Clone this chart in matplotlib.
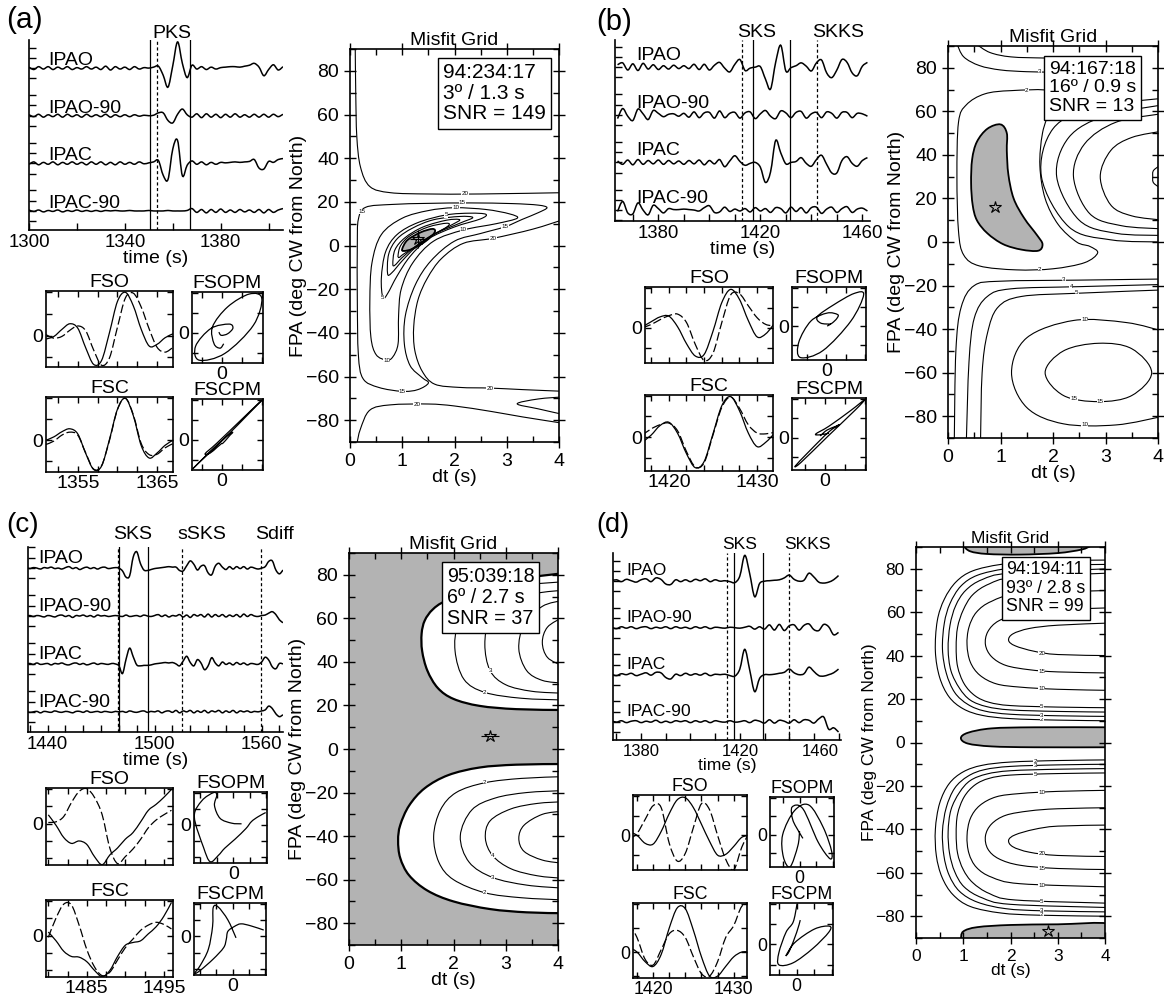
import numpy as np
import matplotlib
matplotlib.use("Agg")
import matplotlib.pyplot as plt
import matplotlib.transforms as mtransforms
from matplotlib.path import Path
from matplotlib.patches import PathPatch
from matplotlib.ticker import MultipleLocator

plt.rcParams["font.family"] = ["Liberation Sans", "DejaVu Sans"]
plt.rcParams["axes.linewidth"] = 1.2

W, H = 1164, 999
GRAY = "#b3b3b3"
STATIONS = ["IPAO", "IPAO-90", "IPAC", "IPAC-90"]
OFFSETS = [30, 20, 10, 0]
SIDE_TICKS = [4.3, 2.15, 0.0, -2.15]

# ---------------- panel (a) data ----------------
A_T0, A_STEP = 1300, 2
A_IPAO = [0.2, -0.3, 0.3, -0.2, 0.3, -0.3, 0.2, -0.2, 0.3, -0.3, 0.1, -0.2, 0.3, -0.2, 0.2, -0.3, 0.4, -0.4,
          0.3, -0.2, 0.2, -0.3, 0.3, -0.2, 0.1, 0.0,
          0.2, 0.4, -1.5, -4.0, 0.5, 5.5, 1.0, -2.0, 0.6, -0.2, 0.3, -0.3, 0.2, -0.2, 0.1, 0.2, 0.3, 0.3,
          0.2, 0.4, 0.6, 1.0, 0.2, -1.6, -0.3, 0.7, -0.4, 0.3]
A_IPAO90 = [0.2, -0.2, 0.3, -0.3, 0.2, -0.2, 0.3, -0.3, 0.3, -0.2, 0.2, -0.3, 0.3, -0.2, 0.2, -0.2, 0.3, -0.3,
            0.2, -0.2, 0.2, -0.2, 0.2, -0.1, 0.1, 0.0,
            0.1, 0.6, 0.6, -1.0, -1.5, 0.3, 1.4, 0.2, -0.3, 0.4, -0.4, 0.4, -0.3, 0.3, -0.4, 0.3, -0.3, 0.4,
            -0.3, 0.2, -0.3, 0.3, -0.3, 0.3, -0.3, 0.3, -0.2, 0.3]
A_IPAC = [-0.2, 0.3, -0.3, 0.2, -0.2, 0.3, -0.3, 0.2, -0.2, 0.3, -0.2, 0.2, -0.3, 0.3, -0.2, 0.3, -0.3, 0.2,
          -0.3, 0.3, -0.2, 0.2, -0.2, 0.3, -0.1, 0.1,
          0.3, 0.6, -2.5, -3.4, 3.0, 4.8, -2.6, -0.4, 0.5, -0.2, 0.3, -0.3, 0.2, -0.2, 0.2, 0.1, 0.2, 0.3,
          0.2, 0.3, 0.4, 0.8, -1.0, -1.2, 0.4, 0.2, 0.8, 1.0]
A_IPAC90 = [0.2, -0.1, 0.2, -0.2, 0.1, -0.1, 0.2, -0.2, 0.1, -0.1, 0.2, -0.1, 0.1, -0.1, 0.1, -0.1, 0.1, 0.0,
            0.1, 0.0, 0.0, 0.1, 0.0, 0.0, 0.0, 0.1, 0.0, 0.0, 0.0, 0.1, 0.0, 0.0, 0.0, 0.1,
            0.5, -0.3, 0.3, -0.4, 0.3, -0.3, 0.4, -0.3, 0.2, -0.3, 0.3, -0.2, 0.2, -0.3, 0.3, -0.4, 0.3, -0.3,
            0.2, 0.5]
A_WINDOW = [1350.6, 1367.0]
A_PHASES = [("PKS", 1353.6)]
A_FS_T0 = 1351
A_FSO_1 = [-0.08, -0.02, 0.14, 0.27, 0.17, -0.28, -0.66, -0.57, 0.07, 0.78, 0.99, 0.68, 0.14, -0.24, -0.2, -0.05, 0.04]
A_FSO_2 = [0.02, -0.06, -0.02, 0.12, 0.22, 0.11, -0.33, -0.68, -0.51, 0.19, 0.86, 0.97, 0.65, 0.15, -0.27, -0.38, -0.27]
A_FSC_1 = [0.0, 0.08, 0.2, 0.27, 0.15, -0.31, -0.69, -0.61, 0.02, 0.73, 0.99, 0.58, -0.13, -0.42, -0.3, -0.12, 0.0]
A_FSC_2 = [-0.1, -0.02, 0.12, 0.19, 0.12, -0.3, -0.68, -0.6, 0.0, 0.72, 0.99, 0.6, -0.08, -0.34, -0.33, -0.18, -0.08]
A_INFO = ["94:234:17", "3º / 1.3 s", "SNR = 149"]
A_BEST = (1.3, 3)
A_FILL = [(1.0, -1.5), (1.1, 2.5), (1.35, 6), (1.58, 7.6), (1.62, 6), (1.45, 2), (1.2, -1.5), (1.03, -2.5)]
A_C2 = [(0.92, -4.5), (0.97, 0), (1.15, 4.5), (1.5, 8.5), (1.85, 10.2), (1.87, 8.8), (1.55, 4.2), (1.25, -0.5),
        (1.02, -4), (0.94, -5.5)]
A_C3 = [(0.82, -8.5), (0.86, -2), (1.05, 3.5), (1.4, 8.5), (1.85, 11.6), (2.1, 11.8), (1.95, 9.5), (1.55, 4.5),
        (1.25, -0.5), (1.0, -5.5), (0.86, -9)]
A_C4 = [(0.72, -13), (0.74, -4), (0.9, 3), (1.2, 8), (1.6, 11.8), (2.1, 13.3), (2.35, 12.8), (2.1, 10.2),
        (1.6, 5), (1.25, -1), (1.0, -7), (0.8, -12.5)]
A_C5 = [(0.63, -24), (0.6, -15), (0.68, -3), (0.9, 5), (1.3, 10.5), (1.84, 14), (2.3, 14.8), (2.6, 14.3),
        (2.5, 12.2), (2.0, 8.5), (1.5, 3), (1.15, -5), (0.9, -14), (0.72, -22)]
A_C10 = [(2.0, 17.3), (2.6, 16.5), (3.05, 14.5), (3.2, 12.5), (2.8, 10), (2.17, 7.1), (1.6, 2), (1.2, -8),
         (0.98, -20), (0.93, -32), (0.92, -45), (0.82, -51), (0.7, -52.5), (0.5, -50), (0.4, -42), (0.38, -25),
         (0.42, -8), (0.6, 5), (1.0, 12.5), (1.5, 16)]
A_C15 = [(0.16, 12), (0.3, 17.5), (0.8, 18.8), (1.5, 19.3), (2.3, 19.5), (3.1, 19.2), (3.6, 18.5), (3.77, 17.3),
         (3.6, 15), (3.3, 12), (2.97, 8.6), (2.5, 5.5), (2.0, 2), (1.55, -7), (1.25, -18), (1.06, -32),
         (1.04, -45), (1.15, -55), (1.38, -60.5), (1.5, -63), (1.3, -66), (1.0, -66.8), (0.55, -65),
         (0.25, -61), (0.16, -50), (0.14, -25), (0.14, 0)]
A_C20U = [(0.10, 91), (0.11, 70), (0.13, 50), (0.2, 36), (0.38, 27), (0.77, 24.2), (1.5, 23.6), (2.5, 23.6),
          (4.1, 24.2)]
A_C20R = [(4.1, 12), (3.5, 7.5), (2.74, 3.3), (2.17, 1.0), (1.75, -6), (1.48, -15), (1.3, -25), (1.22, -37),
          (1.24, -48), (1.38, -57.5), (1.62, -63.5), (2.1, -65), (2.68, -65.3), (3.3, -66), (4.1, -66.8)]
A_C20L = [(0.13, -91), (0.2, -84), (0.38, -75.4), (0.77, -73), (1.5, -72.6), (2.0, -73.5), (2.7, -76),
          (3.3, -78.5), (4.1, -81.5)]
A_C20T = [(4.1, -69.3), (3.6, -70.3), (3.2, -72.5), (3.6, -74.8), (4.1, -77.5)]
A_LABELS = [("20", 2.2, 23.6), ("15", 2.15, 19.5), ("10", 2.03, 17.2), ("15", 0.22, 15.6), ("5", 1.84, 14),
            ("10", 2.17, 7.1), ("15", 2.97, 8.6), ("20", 2.74, 3.3), ("20", 2.68, -65.3), ("10", 0.7, -52.5),
            ("15", 1.0, -66.8), ("5", 0.63, -24), ("20", 1.28, -72.6)]

# ---------------- panel (b) data ----------------
B_T0, B_STEP = 1364, 2
B_IPAO = [0.5, 0.9, -0.6, 0.7, -0.7, 0.8, -0.4, 0.5, -0.5, 0.3, -0.4, 0.4, -0.3, 0.3, -0.3, 0.6, -0.5, 0.6,
          -0.6, 0.4, 1.0, -0.2, -1.0, 0.6, 1.6, -0.7, -0.2, 0.0, 0.1, -2.5, -4.6, 1.0, 4.6, -0.8, -0.1, 0.3,
          0.9, 0.2, -0.8, 0.9, 1.5, -1.2, -2.2, -0.6, 1.6, 1.0, -1.2, -1.8, 0.2, 1.0]
B_IPAO90 = [-0.8, 1.3, -0.3, -1.2, 1.2, 0.2, -1.0, 0.9, 0.3, -0.4, 0.1, 0.2, -0.3, 0.3, -0.5, 0.6, -0.6, 0.4,
            0.5, -0.7, 0.8, -0.6, 0.3, 0.5, -0.7, 0.4, 0.6, -0.8, 0.2, 0.9, -0.3, -0.8, 0.8, 0.4, -0.6, 0.5,
            0.7, -0.7, 0.2, 0.5, -0.6, 0.6, 0.3, -0.7, 0.5, 0.5, -0.6, 0.3, 0.2, -0.3]
B_IPAC = [0.3, -0.4, 0.5, -0.5, 0.6, -0.4, 0.4, -0.3, 0.5, -0.4, 0.4, -0.3, 0.3, -0.4, 0.4, -0.3, 0.5, -0.5,
          0.4, -0.3, 0.6, -0.9, 0.3, 1.4, 0.2, -0.6, -0.2, 0.0, -1.0, -4.2, -2.0, 4.6, 2.0, -0.3, 0.0, 0.2,
          1.0, -0.2, -0.8, 0.6, 1.5, -0.4, -2.2, -2.2, 0.4, 1.2, -0.2, -0.8, 0.4, 1.0]
B_IPAC90 = [-0.3, 1.8, -0.6, -0.8, 1.5, 0.0, -1.0, 1.0, 0.3, -0.6, 0.3, 0.1, 0.1, 0.2, 0.1, 0.0, -0.2, 0.5,
            0.9, -0.5, -0.4, 0.6, -0.3, 0.2, -0.2, 0.3, -0.4, 0.5, -0.2, 0.3, -0.5, 0.5, 0.3, -0.6, 0.6, -0.3,
            0.5, -0.6, 0.5, 0.6, -0.7, 0.2, 0.6, -0.5, 0.3, 0.7, -0.5, 0.2, 0.4, -0.2]
B_WINDOW = [1417.0, 1431.6]
B_PHASES = [("SKS", 1412.9), ("SKKS", 1442.1)]
B_FS_T0 = 1417
B_FSO_1 = [0.02, 0.15, 0.27, 0.29, 0.02, -0.40, -0.71, -0.67, -0.09, 0.63, 0.96, 0.71, 0.18, -0.23, -0.15, 0.12]
B_FSO_2 = [0.0, 0.08, 0.2, 0.3, 0.34, 0.13, -0.42, -0.82, -0.64, 0.13, 0.82, 0.85, 0.55, 0.25, 0.08, 0.05]
B_FSC_1 = [-0.12, 0.05, 0.28, 0.36, 0.09, -0.40, -0.74, -0.59, 0.08, 0.76, 0.98, 0.64, 0.10, -0.23, -0.12, 0.10]
B_FSC_2 = [0.05, 0.2, 0.3, 0.34, 0.15, -0.35, -0.72, -0.62, 0.05, 0.72, 0.97, 0.7, 0.3, 0.1, 0.08, 0.12]
B_INFO = ["94:167:18", "16º / 0.9 s", "SNR = 13"]
B_BEST = (0.9, 16)
B_FILL = [(1.0, 54), (0.75, 52), (0.55, 46), (0.46, 38), (0.44, 27), (0.47, 17), (0.55, 10), (0.75, 4),
          (1.05, -1), (1.4, -3.5), (1.72, -4), (1.8, -1), (1.7, 3), (1.45, 11), (1.25, 20), (1.15, 31),
          (1.12, 42), (1.12, 50)]
B_C2 = [(1.95, 69.3), (1.2, 69.5), (0.7, 68), (0.35, 63), (0.2, 55), (0.17, 30), (0.2, 5), (0.3, -6),
        (0.6, -11), (1.3, -12.8), (2.0, -12.3), (2.6, -9.5), (2.85, -5), (2.7, -2), (2.45, 0), (2.1, 8),
        (1.85, 20), (1.75, 35), (1.8, 50), (1.95, 62)]
B_R1 = [(4.1, 24), (3.92, 27), (3.9, 30), (3.92, 33), (4.1, 36)]
B_R2 = [(4.1, 10), (3.5, 12), (3.1, 17), (2.9, 30), (3.1, 42), (3.5, 48), (4.1, 51)]
B_R3 = [(4.1, 6), (3.3, 7.5), (2.7, 13), (2.39, 30), (2.6, 45), (3.2, 55), (4.1, 59)]
B_R4 = [(4.1, 3), (3.2, 4), (2.5, 10), (2.07, 30), (2.3, 48), (3.0, 58), (4.1, 63)]
B_R5 = [(4.1, 0), (3.1, 1), (2.3, 7), (1.78, 30), (2.0, 52), (2.8, 62), (4.1, 66)]
B_E15 = [(1.85, -60), (2.2, -50), (2.87, -46.5), (3.5, -49), (3.88, -60), (3.5, -70.5), (2.87, -73.3), (2.2, -70.5)]
B_E10 = [(4.1, -80), (3.2, -84), (2.2, -83.5), (1.5, -76), (1.21, -60), (1.5, -44), (2.4, -36), (3.4, -37),
         (4.1, -41)]
B_U3 = [(4.1, -17), (2.5, -17.5), (1.0, -18), (0.5, -20), (0.25, -30), (0.15, -50), (0.12, -91)]
B_U4 = [(4.1, -19.5), (2.5, -20.5), (1.2, -21.5), (0.75, -25), (0.5, -35), (0.4, -55), (0.35, -91)]
B_U5 = [(4.1, -22), (2.5, -23.5), (1.4, -25), (0.95, -30), (0.75, -42), (0.65, -60), (0.62, -91)]
B_T3 = [(0.17, 91), (0.3, 85), (0.6, 81), (1.0, 79), (1.5, 78.2), (2.0, 78)]
B_T4 = [(0.53, 91), (0.8, 87), (1.2, 85), (1.8, 84.5), (2.0, 84.5)]
B_LABELS = [("2", 1.5, 69.4), ("3", 1.75, 78.1), ("2", 1.75, -12.5), ("3", 2.2, -17.4), ("4", 2.35, -20.4),
            ("5", 2.45, -23.4), ("10", 2.6, -35.8), ("15", 2.4, -72), ("15", 2.9, -73.3), ("10", 2.6, -84)]

# ---------------- panel (c) data ----------------
C_T0, C_STEP = 1428, 2
C_IPAO = [0.1, -0.1, 0.1, 0.0, -0.2, 0.1, 0.0, 0.2, -0.1, 0.0, -0.2, 0.1, 0.3, -0.1, 0.1, -0.3, 0.0, 0.2,
          -0.1, 0.1, -0.2, 0.1, 0.2, -0.1, 0.0, 0.1, 0.0, -0.6, -1.9, -1.6, 2.3, 3.4, 1.0, -0.4, -0.5, -0.3,
          -0.1, 0.0, 0.1, 0.2, 0.3, 0.2, 0.2, -0.5, -0.6, 0.5, 1.5, 0.8, -0.4, 0.4, 0.5, -1.0, -1.4, 0.4,
          1.0, 0.2, -0.3, 0.3, -0.2, 0.3, -0.1, 0.3, -0.2, 0.2, 0.0, -0.2, 0.0, 0.3, 1.4, 1.5, -0.4, -1.2, -0.4]
C_IPAO90 = [0.0, 0.1, -0.1, 0.1, 0.0, -0.2, 0.1, 0.0, -0.2, 0.1, 0.2, -0.1, 0.1, -0.3, 0.1, 0.0, 0.2, -0.1,
            0.1, -0.2, 0.2, 0.0, 0.1, -0.1, 0.0, 0.1, 0.0, -0.1, 0.2, -0.1, 0.0, 0.1, -0.1, 0.2, 0.0, -0.1,
            0.1, 0.3, -0.1, 0.2, -0.2, 0.1, 0.0, 0.3, -0.2, 0.2, -0.3, 0.3, 0.0, 0.3, -0.2, 0.4, -0.2, 0.3,
            -0.1, 0.3, -0.2, 0.2, -0.1, 0.3, -0.2, 0.4, -0.1, 0.3, 0.0, -0.1, 0.1, 0.2, 0.6, 0.9, 0.3, -0.8, -1.4]
C_IPAC = [0.0, 0.1, -0.1, 0.2, -0.1, 0.0, 0.1, -0.2, 0.1, 0.0, 0.2, -0.1, -0.2, 0.1, 0.2, -0.1, 0.1, -0.2,
          0.0, 0.2, -0.1, 0.1, 0.0, -0.1, 0.1, 0.0, -0.4, -2.0, 1.0, 3.3, 1.5, -0.2, -0.4, -0.3, -0.3, -0.2,
          0.0, 0.1, 0.2, 0.3, 0.2, 0.3, 0.0, -0.4, 0.6, 1.6, 0.3, -0.4, 0.9, 0.2, -1.2, -0.4, 1.3, 0.2, -0.4,
          0.4, -0.1, 0.2, -0.2, 0.3, -0.1, 0.2, -0.2, 0.1, 0.0, -0.1, 0.4, 1.4, 0.8, -0.6, -1.0, 0.1, 0.0]
C_IPAC90 = [0.1, -0.1, 0.0, 0.1, -0.2, 0.1, 0.0, -0.1, 0.2, 0.0, -0.1, 0.1, 0.0, -0.2, 0.1, 0.1, -0.1, 0.2,
            -0.1, 0.0, 0.1, -0.1, 0.1, 0.0, -0.1, 0.1, 0.0, 0.1, -0.1, 0.2, 0.0, -0.1, 0.1, 0.2, -0.1, 0.1,
            0.0, 0.2, -0.2, 0.1, 0.2, -0.1, 0.3, -0.2, 0.2, 0.0, 0.3, -0.2, 0.2, -0.1, 0.3, -0.2, 0.2, 0.0,
            0.3, -0.2, 0.2, -0.1, 0.3, -0.2, 0.2, 0.0, 0.2, -0.1, 0.1, 0.0, 0.2, 0.4, 1.2, 0.7, -0.4, -1.0, -0.6]
C_WINDOW = [1480.0, 1496.3]
C_PHASES = [("SKS", 1479.4), ("sSKS", 1515.5), ("Sdiff", 1559.4)]
C_FS_T0 = 1480
C_FSO_1 = [0.25, -0.05, -0.4, -0.57, -0.5, -0.6, -0.95, -1.18, -0.9, -0.7, -0.45, -0.26, 0.05, 0.38, 0.55, 0.75, 0.98]
C_FSO_2 = [0.03, 0.05, 0.2, 0.6, 0.92, 1.0, 0.75, 0.25, -0.71, -1.15, -0.95, -0.73, -0.45, -0.12, 0.1, 0.25, 0.38]
C_FSC_1 = [0.1, -0.15, -0.45, -0.6, -0.62, -0.75, -1.0, -1.18, -1.0, -0.6, -0.28, -0.2, -0.15, 0.05, 0.25, 0.55, 0.95]
C_FSC_2 = [-0.05, 0.5, 0.9, 0.88, 0.3, -0.4, -0.9, -1.15, -1.05, -0.7, -0.35, -0.1, 0.15, 0.3, 0.38, 0.32, 0.19]
C_INFO = ["95:039:18", "6º / 2.7 s", "SNR = 37"]
C_BEST = (2.7, 6)
C_WHITE_UP = [(4.1, 17.9), (3.2, 18.3), (2.5, 19.8), (2.0, 23), (1.7, 28), (1.5, 36), (1.4, 45), (1.39, 53),
              (1.45, 59), (1.6, 64), (1.85, 68), (2.5, 74), (3.2, 78), (4.1, 80.7)]
C_WHITE_LO = [(4.1, -6.9), (3.2, -7.2), (2.5, -8.5), (1.9, -12), (1.45, -18), (1.15, -26), (0.98, -35),
              (0.94, -42), (0.98, -50), (1.15, -58), (1.5, -65), (2.0, -70), (2.7, -73.5), (3.4, -75), (4.1, -75.4)]
C_L2 = [(4.1, -12.7), (3.3, -13.5), (2.6, -15.5), (2.05, -20), (1.75, -28), (1.62, -40), (1.72, -52), (2.0, -60),
        (2.6, -66), (3.3, -68.3), (4.1, -69.3)]
C_L3 = [(4.1, -19.1), (3.4, -20), (2.8, -22.5), (2.35, -28), (2.13, -40), (2.3, -52), (2.75, -59), (3.4, -62.5),
        (4.1, -63.9)]
C_L4 = [(4.1, -24.2), (3.6, -25), (3.1, -27.5), (2.7, -33), (2.61, -41), (2.75, -49), (3.1, -55), (3.6, -58.2),
        (4.1, -59.4)]
C_L5 = [(4.1, -28.5), (3.7, -30), (3.35, -35), (3.25, -41), (3.35, -47), (3.7, -51), (4.1, -52.5)]
C_U2 = [(4.1, 22.5), (3.3, 23.3), (2.6, 26), (2.2, 32), (2.03, 45), (2.1, 57), (2.5, 67), (3.2, 74.5), (4.1, 76.8)]
C_U3 = [(4.1, 25.6), (3.5, 26.5), (3.0, 29.5), (2.7, 36), (2.6, 48), (2.7, 59), (3.1, 67.5), (3.6, 71.5), (4.1, 72.9)]
C_U4 = [(4.1, 30.2), (3.7, 31.5), (3.4, 36), (3.25, 46), (3.35, 57), (3.7, 65.5), (4.1, 68.3)]
C_U5 = [(4.1, 38), (3.8, 42), (3.7, 49), (3.8, 56), (4.1, 60.6)]
C_LABELS = [("2", 2.6, -15.5), ("4", 2.75, -49), ("3", 2.75, -59), ("2", 2.6, -66), ("3", 2.7, 36),
            ("2", 2.6, 26)]

# ---------------- panel (d) data ----------------
D_T0, D_STEP = 1368, 2
D_IPAO = [0.0, 0.2, -0.2, 0.3, 0.0, -0.3, 0.2, 0.4, -0.2, 0.6, 0.3, -0.7, -0.8, 0.2, -0.2, 0.2, -0.2, 0.3,
          0.0, 0.4, -0.2, 0.2, -0.1, 0.0, -0.2, -0.4, 1.0, 5.4, 1.5, -3.4, -0.6, -0.1, 0.0, 0.1, 0.2, 0.6,
          1.2, 0.3, -0.1, 0.1, 1.6, 0.8, -0.3, -0.5, -0.3, 0.2, 1.1]
D_IPAO90 = [0.1, -0.2, 0.2, -0.1, 0.2, -0.2, 0.1, 0.2, -0.2, 0.1, -0.1, 0.2, -0.2, 0.2, -0.1, 0.1, -0.2, 0.2,
            -0.1, 0.2, -0.2, 0.1, 0.0, -0.1, 0.1, 0.0, -0.1, 0.1, 0.3, -0.3, 0.2, -0.3, 0.6, -0.5, 0.7, -0.6,
            0.4, 0.6, -0.5, 0.5, 0.8, -0.4, -0.6, 0.7, 0.2, -1.5, -1.0]
D_IPAC = [0.1, -0.2, 0.2, 0.0, 0.3, -0.2, 0.1, 0.4, -0.1, 0.5, 0.4, -0.6, -0.9, 0.1, -0.2, 0.3, -0.1, 0.2,
          -0.1, 0.3, -0.2, 0.1, 0.0, 0.1, -0.2, -0.3, 1.2, 5.4, 1.0, -3.6, -0.8, 0.0, 0.0, 0.1, 0.3, 0.5,
          1.2, 0.4, 0.0, 0.2, 1.6, 0.7, -0.2, -0.3, 0.0, 0.4, 1.2]
D_IPAC90 = [0.2, -0.1, 0.2, -0.2, 0.1, 0.2, -0.2, 0.1, -0.1, 0.3, -0.2, 0.1, -0.2, 0.2, 0.0, 0.2, -0.2, 0.2,
            -0.1, 0.2, -0.2, 0.2, 0.0, -0.1, 0.2, -0.1, 0.0, 0.2, -0.2, 0.3, 0.1, -0.3, 0.4, -0.3, 0.3, 0.1,
            -0.3, 0.4, -0.2, 0.4, 0.3, -0.3, 0.6, 1.0, -1.6, -1.3, -2.2]
D_WINDOW = [1417.7, 1429.3]
D_PHASES = [("SKS", 1415.0), ("SKKS", 1440.1)]
D_FS_T0 = 1417
D_FSO_1 = [0.1, 0.0, -0.2, -0.22, 0.1, 0.55, 0.9, 0.95, 0.7, 0.28, -0.15, -0.5, -0.48, -0.28, -0.05, 0.0]
D_FSO_2 = [-0.1, 0.05, 0.4, 0.75, 0.7, -0.2, -0.65, -0.45, 0.2, 0.8, 0.65, 0.0, -0.6, -0.87, -0.3, 0.1]
D_FSC_1 = [0.1, 0.0, -0.2, -0.3, -0.05, 0.5, 0.92, 0.9, 0.45, -0.1, -0.5, -0.5, -0.3, -0.1, 0.0, 0.0]
D_FSC_2 = [0.6, 0.3, -0.15, -0.27, 0.05, 0.38, 0.45, 0.3, -0.1, -0.45, -0.5, -0.2, 0.3, 0.55, 0.95, 1.0]
D_INFO = ["94:194:11", "93º / 2.8 s", "SNR = 99"]
D_BEST = (2.8, -87)
D_FILL_MID = [(4.1, 7), (2.5, 7), (1.6, 6.5), (1.1, 4.5), (0.95, 2), (1.1, -0.5), (1.6, -1.8), (2.5, -2.2), (4.1, -2.2)]
D_FILL_TOP = [(1.0, 90.5), (1.15, 88), (1.5, 86.8), (2.2, 86.5), (3.0, 87.2), (3.5, 88.8), (3.7, 90.5)]
D_FILL_BOT = [(0.95, -90.5), (1.0, -87), (1.3, -85), (2.0, -84), (3.0, -83.7), (4.1, -83.5), (4.1, -90.5)]
D_UP2 = [(4.1, 10), (3, 10.3), (2, 11), (1.4, 12.5), (1.0, 15.5), (0.7, 21), (0.5, 30), (0.41, 42), (0.45, 56),
         (0.6, 66), (0.85, 74), (1.2, 79), (1.8, 82), (2.6, 83.5), (4.1, 84)]
D_UP3 = [(4.1, 12), (3, 12.3), (2, 13), (1.45, 14.5), (1.1, 17.5), (0.82, 23), (0.64, 32), (0.56, 43), (0.6, 55),
         (0.72, 64), (0.95, 72), (1.3, 77), (1.9, 80), (2.7, 81.5), (4.1, 82)]
D_UP4 = [(4.1, 14), (3, 14.3), (2, 15), (1.5, 16.5), (1.15, 19.5), (0.92, 25), (0.74, 33), (0.68, 43), (0.72, 54),
         (0.84, 63), (1.05, 70), (1.4, 75), (2, 78), (4.1, 80)]
D_UP5 = [(4.1, 16), (3, 16.3), (2, 17), (1.55, 18.5), (1.25, 21.5), (1.02, 27), (0.88, 35), (0.85, 44), (0.88, 53),
         (1.0, 61), (1.2, 68), (1.55, 73), (2.1, 76), (4.1, 78)]
D_UP10 = [(4.1, 24), (3, 24.5), (2.2, 25.5), (1.7, 27), (1.35, 31), (1.15, 37), (1.08, 45), (1.12, 53), (1.28, 60),
          (1.6, 65), (2.2, 68.5), (4.1, 70)]
D_UP15 = [(4.1, 32), (3, 32.5), (2.4, 33.5), (1.9, 35.5), (1.6, 39.5), (1.47, 45), (1.52, 51), (1.75, 56), (2.2, 59),
          (3, 61), (4.1, 62)]
D_UP20 = [(4.1, 40), (3, 40.5), (2.5, 42), (2.1, 44.5), (1.96, 47), (2.05, 50), (2.4, 52.5), (3, 54), (4.1, 55)]
D_LO2 = [(4.1, -8), (3, -8.3), (2, -9), (1.4, -10.5), (1.0, -13.5), (0.7, -19), (0.5, -28), (0.41, -40), (0.43, -52),
         (0.55, -62), (0.78, -70), (1.15, -75.5), (1.8, -78.5), (2.6, -79.5), (4.1, -80)]
D_LO3 = [(4.1, -10), (3, -10.3), (2, -11), (1.45, -12.5), (1.1, -15.5), (0.82, -21), (0.64, -30), (0.56, -41),
         (0.59, -52), (0.7, -61), (0.92, -68.5), (1.3, -73.5), (1.9, -76.5), (2.7, -77.5), (4.1, -78)]
D_LO4 = [(4.1, -12), (3, -12.3), (2, -13), (1.5, -14.5), (1.15, -17.5), (0.92, -23), (0.74, -31), (0.68, -41),
         (0.71, -51), (0.82, -59.5), (1.02, -66.5), (1.4, -71.5), (2, -74.5), (4.1, -76)]
D_LO5 = [(4.1, -14), (3, -14.3), (2, -15), (1.55, -16.5), (1.25, -19.5), (1.02, -25), (0.88, -33), (0.85, -42),
         (0.88, -51), (1.0, -58.5), (1.2, -64.5), (1.55, -69.5), (2.1, -72.5), (4.1, -74)]
D_LO10 = [(4.1, -22), (3, -22.5), (2.2, -23.5), (1.7, -25), (1.35, -29), (1.15, -35), (1.08, -43), (1.12, -51),
          (1.28, -57.5), (1.6, -62), (2.2, -65), (4.1, -66.5)]
D_LO15 = [(4.1, -30), (3, -30.5), (2.4, -31.5), (1.9, -33.5), (1.6, -37.5), (1.47, -43), (1.52, -49), (1.75, -53.5),
          (2.2, -56.5), (3, -58), (4.1, -58.5)]
D_LO20 = [(4.1, -38), (3, -38.5), (2.5, -40), (2.1, -42.5), (1.96, -45), (2.05, -48), (2.4, -50.5), (3, -52),
          (4.1, -52.5)]
D_LABELS = [("2", 2.66, 10.6), ("3", 2.66, 12.6), ("5", 2.66, 16.6), ("10", 2.66, 24.8), ("15", 2.66, 32.8),
            ("20", 2.66, 41.2), ("2", 2.52, -8.7), ("3", 2.52, -10.7), ("5", 2.52, -14.7), ("10", 2.66, -22.8),
            ("20", 2.66, -51.2), ("15", 2.66, -57.8), ("10", 2.66, -65.8), ("5", 2.66, -73.3), ("3", 2.66, -77.3),
            ("2", 2.66, -79.3)]

fig = plt.figure(figsize=(W / 100, H / 100), dpi=100)


def add_ax(x0, y0, x1, y1):
    return fig.add_axes([x0 / W, 1 - y1 / H, (x1 - x0) / W, (y1 - y0) / H])


def smooth_path(x, y, closed=False, close_straight=False):
    # Catmull-Rom through the given points, drawn as cubic Bezier segments
    P = np.column_stack([x, y]).astype(float)
    if closed:
        Q = np.vstack([P[-1], P, P[0], P[1]])
        n = len(P)
    else:
        Q = np.vstack([P[0], P, P[-1]])
        n = len(P) - 1
    verts = [Q[1]]
    codes = [Path.MOVETO]
    for i in range(1, n + 1):
        p0, p1, p2, p3 = Q[i - 1], Q[i], Q[i + 1], Q[i + 2]
        verts += [p1 + (p2 - p0) / 6, p2 - (p3 - p1) / 6, p2]
        codes += [Path.CURVE4] * 3
    if close_straight:
        verts.append(Q[1])
        codes.append(Path.CLOSEPOLY)
    return Path(verts, codes)


def line(ax, pts, closed=False, lw=0.8, **kw):
    x, y = zip(*pts)
    ax.add_patch(PathPatch(smooth_path(x, y, closed), fill=False, lw=lw, ec="k", **kw))


def area(ax, pts, color, closed=True):
    x, y = zip(*pts)
    ax.add_patch(PathPatch(smooth_path(x, y, closed, close_straight=not closed), fc=color, ec="none"))


def clabels(ax, labels):
    for s, x, y in labels:
        ax.text(x, y, s, fontsize=4.5, ha="center", va="center", zorder=4,
                bbox=dict(fc="white", ec="none", pad=0.2))


def wave(ax, t0, step, vals, off=0.0, **kw):
    t = t0 + step * np.arange(len(vals))
    ax.add_patch(PathPatch(smooth_path(t, off + np.asarray(vals)), fill=False, ec="k", **kw))


def trace_panel(box, t0, step, traces, xlim, ylim, majors, minor_step, windows, phases,
                label_fx, label_dy, phase_dy, fs):
    ax = add_ax(*box)
    ax.set_xlim(*xlim)
    ax.set_ylim(*ylim)
    for s in ("top", "right"):
        ax.spines[s].set_visible(False)
    blend = mtransforms.blended_transform_factory(ax.transAxes, ax.transData)
    for name, off, vals in zip(STATIONS, OFFSETS, traces):
        wave(ax, t0, step, vals, off, lw=1.1)
        ax.text(label_fx, off + label_dy, name, transform=blend, fontsize=fs, va="baseline")
    for w in windows:
        ax.axvline(w, color="k", lw=0.9)
    for name, tp in phases:
        ax.axvline(tp, color="k", lw=0.9, ls=(0, (2.5, 2)))
        ax.annotate(name, xy=(tp, 1), xycoords=("data", "axes fraction"), xytext=(-3.6, phase_dy),
                    textcoords="offset points", ha="left", va="baseline", fontsize=fs)
    ax.set_xticks(majors)
    ax.xaxis.set_minor_locator(MultipleLocator(minor_step))
    ax.set_yticks([o + s for o in OFFSETS for s in SIDE_TICKS])
    ax.set_yticklabels([])
    ax.tick_params(which="both", direction="in", length=5, width=1, labelsize=fs - 0.6, pad=3)
    ax.set_xlabel("time (s)", fontsize=fs, labelpad=-1)
    return ax


def small_box(ax, xlim, ylim, fs):
    ax.set_xlim(*xlim)
    ax.set_ylim(*ylim)
    ax.tick_params(which="both", direction="in", length=4, width=1, top=True, right=True,
                   labelsize=fs, pad=2)
    ax.yaxis.set_minor_locator(MultipleLocator(0.5))
    ax.set_yticks([0])
    ax.set_yticklabels(["0"])


def waveform_panels(boxes, t0, fso, fsc, xlim, ylim_o, ylim_c, majors, minor_step, fs):
    b_fso, b_fsopm, b_fsc, b_fscpm = boxes
    dash = (0, (7, 2.5))
    for b, (s1, s2), ylim, name, show_x in ((b_fso, fso, ylim_o, "FSO", False),
                                            (b_fsc, fsc, ylim_c, "FSC", True)):
        ax = add_ax(*b)
        wave(ax, t0, 1, s1, lw=0.9)
        wave(ax, t0, 1, s2, lw=0.9, ls=dash)
        small_box(ax, xlim, ylim, fs)
        ax.set_xticks(majors)
        ax.xaxis.set_minor_locator(MultipleLocator(minor_step))
        if not show_x:
            ax.set_xticklabels([])
        ax.set_title(name, fontsize=fs, pad=1)
    for b, (s1, s2), ylim, name in ((b_fsopm, fso, ylim_o, "FSOPM"), (b_fscpm, fsc, ylim_c, "FSCPM")):
        ax = add_ax(*b)
        lim = (min(ylim[0], -0.75), ylim[1])
        ax.add_patch(PathPatch(smooth_path(s1, s2), fill=False, ec="k", lw=0.9))
        small_box(ax, lim, lim, fs)
        ax.xaxis.set_minor_locator(MultipleLocator(0.5))
        ax.set_xticks([0])
        ax.set_xticklabels(["0"])
        ax.set_title(name, fontsize=fs, pad=1)


def misfit_panel(box, info, info_xy, best, fs, box_fs, gray_bg=False):
    ax = add_ax(*box)
    ax.set_xlim(0, 4)
    ax.set_ylim(-90, 90)
    if gray_bg:
        ax.set_facecolor(GRAY)
    ax.set_xticks([0, 1, 2, 3, 4])
    ax.set_yticks(np.arange(-80, 81, 20))
    ax.xaxis.set_minor_locator(MultipleLocator(0.5))
    ax.yaxis.set_minor_locator(MultipleLocator(10))
    ax.tick_params(which="major", direction="inout", length=9, width=1, top=True, right=True, labelsize=fs)
    ax.tick_params(which="minor", direction="in", length=4, width=1, top=True, right=True)
    ax.set_xlabel("dt (s)", fontsize=fs, labelpad=-1)
    ax.set_ylabel("FPA (deg CW from North)", fontsize=fs, labelpad=-1)
    ax.set_title("Misfit Grid", fontsize=fs, pad=3)
    ax.text(info_xy[0], info_xy[1], "\n".join(info), transform=ax.transAxes, va="top", ha="left",
            fontsize=box_fs, linespacing=1.12, zorder=6,
            bbox=dict(boxstyle="square,pad=0.25", fc="white", ec="black", lw=1.0))
    ax.plot(*best, marker="*", ms=9, mfc="none", mec="k", mew=0.8, zorder=5)
    return ax


def letter(x, y, s, fs):
    fig.text(x / W, 1 - y / H, s, fontsize=fs, va="center", ha="left")


# ---------------- (a) ----------------
letter(6, 20, "(a)", 21.5)
trace_panel((29, 40, 283, 230), A_T0, A_STEP, [A_IPAO, A_IPAO90, A_IPAC, A_IPAC90], (1300, 1406), (-4.0, 35.9),
            [1300, 1340, 1380], 20, A_WINDOW, A_PHASES, 0.075, 0.6, 1.5, 14)
waveform_panels([(46, 291, 173, 367), (192, 292, 263, 363), (46, 397, 173, 472), (192, 399, 263, 470)],
                A_FS_T0, (A_FSO_1, A_FSO_2), (A_FSC_1, A_FSC_2), (1351, 1367), (-0.72, 1.02), (-0.75, 1.02),
                [1355, 1365], 2.5, 14)
ax = misfit_panel((350, 49, 559, 442), A_INFO, (0.445, 0.965), A_BEST, 14, 15)
area(ax, A_FILL, GRAY)
line(ax, A_FILL, closed=True, lw=1.3)
for c in (A_C2, A_C3, A_C4, A_C5, A_C10, A_C15):
    line(ax, c, closed=True)
for c in (A_C20U, A_C20R, A_C20L, A_C20T):
    line(ax, c)
clabels(ax, A_LABELS)
ax.errorbar(*A_BEST, xerr=0.15, yerr=4, fmt="none", ecolor="k", elinewidth=0.8)

# ---------------- (b) ----------------
letter(596, 22, "(b)", 21)
trace_panel((615, 40, 870, 221), B_T0, B_STEP, [B_IPAO, B_IPAO90, B_IPAC, B_IPAC90], (1363, 1463), (-2.3, 35.7),
            [1380, 1420, 1460], 10, B_WINDOW, B_PHASES, 0.082, 1.5, 2.0, 14)
waveform_panels([(645, 287, 773, 363), (792, 287, 866, 360), (645, 395, 773, 471), (792, 398, 866, 470)],
                B_FS_T0, (B_FSO_1, B_FSO_2), (B_FSC_1, B_FSC_2), (1417.3, 1431.8), (-0.885, 1.02),
                (-0.82, 1.02), [1420, 1430], 2, 14)
ax = misfit_panel((948, 46, 1158, 438), B_INFO, (0.48, 0.962), B_BEST, 14, 14)
area(ax, B_FILL, GRAY)
line(ax, B_FILL, closed=True, lw=1.3)
line(ax, B_C2, closed=True)
line(ax, B_E15, closed=True)
for c in (B_R1, B_R2, B_R3, B_R4, B_R5, B_E10, B_U3, B_U4, B_U5, B_T3, B_T4):
    line(ax, c)
clabels(ax, B_LABELS)

# ---------------- (c) ----------------
letter(6, 525, "(c)", 20)
trace_panel((28, 547, 283, 732), C_T0, C_STEP, [C_IPAO, C_IPAO90, C_IPAC, C_IPAC90], (1429, 1572), (-4.2, 34.4),
            [1440, 1500, 1560], 10, C_WINDOW, C_PHASES, 0.04, 1.0, 6.0, 14)
waveform_panels([(46, 788, 173, 865), (194, 792, 267, 863), (46, 900, 173, 977), (194, 903, 266, 975)],
                C_FS_T0, (C_FSO_1, C_FSO_2), (C_FSC_1, C_FSC_2), (1479.7, 1496.2), (-1.19, 1.02),
                (-1.19, 1.02), [1485, 1495], 2.5, 14)
ax = misfit_panel((349, 553, 558, 945), C_INFO, (0.468, 0.964), C_BEST, 14, 14.2, gray_bg=True)
for c in (C_WHITE_UP, C_WHITE_LO):
    area(ax, c, "white", closed=False)
    line(ax, c, lw=1.6)
for c in (C_L2, C_L3, C_L4, C_L5, C_U2, C_U3, C_U4, C_U5):
    line(ax, c)
clabels(ax, C_LABELS)
ax.errorbar(*C_BEST, xerr=0.18, fmt="none", ecolor="k", elinewidth=0.8)

# ---------------- (d) ----------------
letter(596, 525, "(d)", 19.5)
ax = trace_panel((613, 553, 841, 740), D_T0, D_STEP, [D_IPAO, D_IPAO90, D_IPAC, D_IPAC90], (1368.6, 1461),
                 (-3.9, 35.9), [1380, 1420, 1460], 10, D_WINDOW, D_PHASES, 0.057, 1.3, 2.7, 12.6)
ax.get_xticklabels()[-1].set_horizontalalignment("right")
waveform_panels([(633, 795, 747, 870), (770, 797, 834, 867), (633, 903, 747, 978), (770, 903, 833, 975)],
                D_FS_T0, (D_FSO_1, D_FSO_2), (D_FSC_1, D_FSC_2), (1417.5, 1431.65), (-0.875, 1.02),
                (-0.54, 1.02), [1420, 1430], 2, 12.8)
ax = misfit_panel((916, 547, 1105, 938), D_INFO, (0.478, 0.964), D_BEST, 12.5, 12.8)
for c in (D_FILL_MID, D_FILL_TOP, D_FILL_BOT):
    area(ax, c, GRAY, closed=False)
    line(ax, c, lw=1.3)
for c in (D_UP2, D_UP3, D_UP4, D_UP5, D_UP10, D_UP15, D_UP20, D_LO2, D_LO3, D_LO4, D_LO5, D_LO10, D_LO15, D_LO20):
    line(ax, c)
clabels(ax, D_LABELS)

fig.savefig("out.png", dpi=100)
